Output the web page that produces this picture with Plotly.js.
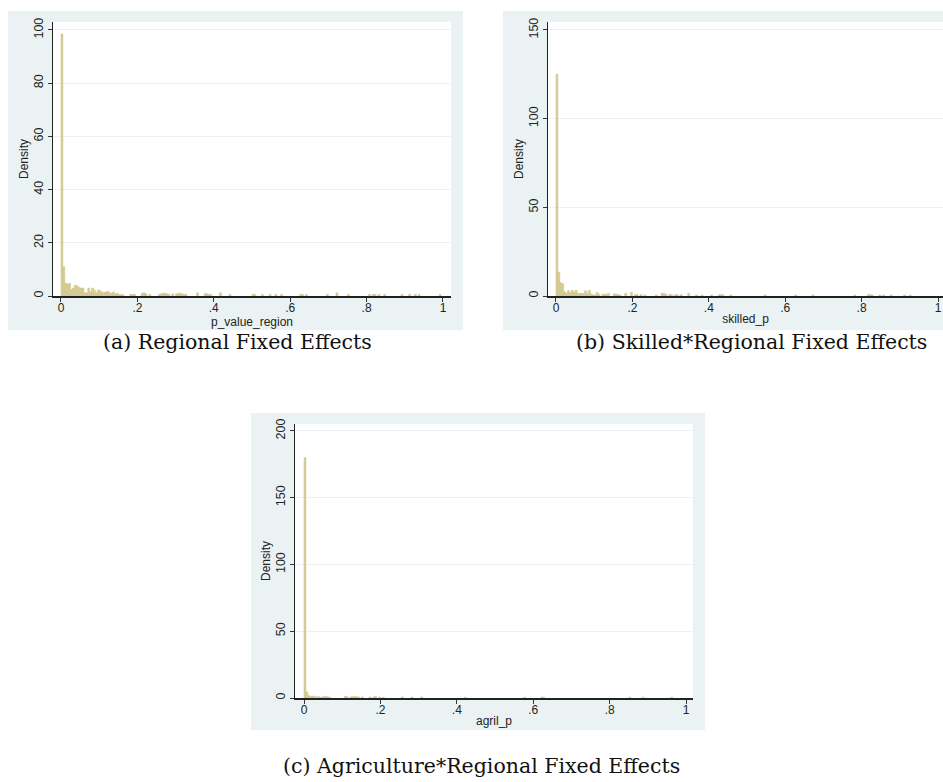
<!DOCTYPE html>
<html><head><meta charset="utf-8">
<script src="https://cdn.plot.ly/plotly-3.0.1.min.js"></script>
<style>html,body{margin:0;padding:0;background:#fff;overflow:hidden}</style>
</head><body>
<div id="chart" style="width:943px;height:782px"></div>
<script>
// ---- data (bin starts, bin width 0.005; densities) ----
const binWidth = 0.005;

const regionBins = [0,0.005,0.01,0.015,0.02,0.025,0.03,0.035,0.04,0.045,0.05,0.055,0.06,0.065,0.07,0.075,0.08,0.085,0.09,0.095,0.1,0.105,0.11,0.115,0.12,0.125,0.13,0.135,0.14,0.145,0.15,0.155,0.16,
  0.18,0.185,0.19,0.21,0.215,0.22,0.23,0.255,0.26,0.265,0.27,0.275,0.28,0.29,0.3,0.305,0.31,0.315,0.32,0.325,0.355,0.375,0.38,0.385,0.39,0.415,0.44,0.5,0.505,0.525,0.545,0.56,0.575,0.625,0.63,0.64,0.695,0.72,0.75,0.805,0.815,0.82,0.83,0.845,0.89,0.91,0.925,0.935,0.99];
const regionDensity = [98.5,11,4.8,4.5,4.8,2.5,3,4.1,3.8,3.2,3,3,1.2,1.2,3,1.6,3,2.2,1.2,2.2,2,1.5,1.2,1.5,1.8,1.2,1,1.5,0.8,1,0.5,0.5,0.5,
  0.6,0.6,0.6,1.0,1.2,0.8,0.6,0.6,0.8,1.0,1.0,0.8,0.6,0.8,0.8,1.0,1.0,0.8,0.6,0.6,1.2,1.0,0.8,0.6,0.6,1.2,0.6,0.6,0.6,0.6,0.6,0.6,0.6,0.6,0.6,0.6,0.6,1.2,0.6,0.6,0.6,0.6,0.6,0.6,0.6,0.6,0.6,0.6,0.6];

const skilledBins = [0,0.005,0.01,0.015,0.02,0.025,0.03,0.035,0.04,0.045,0.05,0.055,0.06,0.065,0.07,0.075,0.08,0.085,0.09,0.095,0.1,0.105,0.11,0.12,0.125,0.13,0.135,0.15,0.155,0.16,0.165,0.18,0.195,0.205,0.21,0.22,0.23,0.26,0.275,0.28,0.285,0.295,0.3,0.31,0.315,0.325,0.345,0.365,0.38,0.405,0.425,0.43,0.435,0.455,0.545,0.625,0.67,0.78,0.815,0.82,0.825,0.845,0.855,0.875,0.91,0.925];
const skilledDensity = [125,13.5,7.5,7,2.4,1.5,3,1.9,3.2,2.2,3.2,1.5,1.5,1.5,1.5,3,1.5,3.2,1.2,0.6,0.6,2,1,1,1,1,1.5,1.2,1,0.8,0.6,1.5,2,0.8,0.8,0.8,0.6,0.6,1.5,1.5,1,0.8,0.8,0.8,0.8,0.8,1.5,0.6,0.6,0.6,0.8,0.8,0.6,0.6,0.6,0.6,0.6,0.6,0.8,0.8,0.6,0.6,0.6,0.6,0.6,0.6];

const agrilBins = [0,0.005,0.01,0.015,0.02,0.025,0.03,0.035,0.04,0.045,0.05,0.055,0.06,0.065,0.105,0.11,0.12,0.125,0.13,0.135,0.14,0.15,0.17,0.18,0.185,0.195,0.205,0.255,0.28,0.305,0.42,0.575,0.62,0.625,0.85,0.885,0.96];
const agrilDensity = [180,4.5,1.8,1.2,1.5,1.2,0.8,1.2,0.6,0.6,1.2,1.2,0.8,0.6,1.2,1.2,0.8,1,1,1,0.8,0.8,0.8,0.8,1.2,0.8,0.6,0.8,0.8,0.8,0.6,0.6,0.8,0.6,0.6,0.6,0.6];

const xTickVals = [0,0.2,0.4,0.6,0.8,1];
const xTickText = ['0','.2','.4','.6','.8','1'];
const regionYTicks = [0,20,40,60,80,100];
const skilledYTicks = [0,50,100,150];
const agrilYTicks = [0,50,100,150,200];
const xTitles = ['p_value_region','skilled_p','agril_p'];
const captions = ['(a) Regional Fixed Effects','(b) Skilled*Regional Fixed Effects','(c) Agriculture*Regional Fixed Effects'];

// ---- layout helpers ----
const W = 943, H = 782;
const px = v => v / W;
const py = v => 1 - v / H;
const barColor = 'rgb(216,206,150)';
const barLine = 'rgb(204,193,132)';
const bgPanel = 'rgb(234,242,243)';
const tickFont = {family: 'Liberation Sans, Arial, sans-serif', size: 12.5, color: '#222'};
const xTickFont = {family: 'Liberation Sans, Arial, sans-serif', size: 12, color: '#222'};
const titleFont = {family: 'Liberation Sans, Arial, sans-serif', size: 12, color: '#222'};

function bars(xs, ys, xa, ya) {
  return {type: 'bar', x: xs, y: ys, width: binWidth, offset: 0,
    marker: {color: barColor, line: {color: barLine, width: 0.5}},
    xaxis: xa, yaxis: ya, hoverinfo: 'x+y', showlegend: false};
}
function xAxis(dom, rng, anchor, title) {
  return {domain: dom, range: rng, anchor: anchor, tickvals: xTickVals, ticktext: xTickText,
    ticks: 'outside', ticklen: 4, tickwidth: 1, tickcolor: '#333', showline: true, linecolor: '#222', linewidth: 1.5,
    showgrid: false, zeroline: false, tickfont: xTickFont, fixedrange: true, ticklabelstandoff: -4,
    title: {text: title, font: titleFont, standoff: 0}};
}
function yAxis(dom, rng, anchor, ticks) {
  return {domain: dom, range: rng, anchor: anchor, tickvals: ticks, tickangle: -90,
    ticks: 'outside', ticklen: 4, tickwidth: 1, tickcolor: '#333', showline: true, linecolor: '#222', linewidth: 1.5,
    showgrid: true, gridcolor: bgPanel, gridwidth: 1, zeroline: false, tickfont: tickFont, fixedrange: true,
    title: {text: 'Density', font: titleFont, standoff: 0}};
}

const data = [
  bars(regionBins, regionDensity, 'x', 'y'),
  bars(skilledBins, skilledDensity, 'x2', 'y2'),
  bars(agrilBins, agrilDensity, 'x3', 'y3')
];

function rect(x0, y0, x1, y1, color) {
  return {type: 'rect', xref: 'paper', yref: 'paper', x0: px(x0), x1: px(x1), y0: py(y1), y1: py(y0),
    fillcolor: color, line: {width: 0}, layer: 'below'};
}

const layout = {
  width: W, height: H, autosize: false,
  margin: {l: 0, r: 0, t: 0, b: 0},
  paper_bgcolor: '#fff', plot_bgcolor: '#fff',
  bargap: 0, showlegend: false,
  xaxis: xAxis([px(53), px(451)], [-0.0209, 1.021], 'y', xTitles[0]),
  yaxis: yAxis([py(296), py(22)], [0, 103.0], 'x', regionYTicks),
  xaxis2: xAxis([px(548), px(943)], [-0.0209, 1.013], 'y2', xTitles[1]),
  yaxis2: yAxis([py(296), py(22)], [0, 154.5], 'x2', skilledYTicks),
  xaxis3: xAxis([px(295), px(693)], [-0.0236, 1.018], 'y3', xTitles[2]),
  yaxis3: yAxis([py(698), py(424)], [0, 205.2], 'x3', agrilYTicks),
  shapes: [
    rect(8, 11, 463, 330, bgPanel),
    rect(53, 22, 451, 296, '#fff'),
    rect(503, 11, 943, 330, bgPanel),
    rect(548, 22, 943, 296, '#fff'),
    rect(251, 413, 705, 730, bgPanel),
    rect(295, 424, 693, 698, '#fff')
  ],
  annotations: [
    {text: captions[0], x: px(237.5), y: py(342)},
    {text: captions[1], x: px(751.5), y: py(342)},
    {text: captions[2], x: px(481.5), y: py(766)}
  ].map(a => Object.assign(a, {xref: 'paper', yref: 'paper', xanchor: 'center', yanchor: 'middle', showarrow: false,
    font: {family: 'DejaVu Serif, serif', size: 20.5, color: '#111'}}))
};

Plotly.newPlot('chart', data, layout, {displayModeBar: false, staticPlot: true});
</script>
</body></html>
